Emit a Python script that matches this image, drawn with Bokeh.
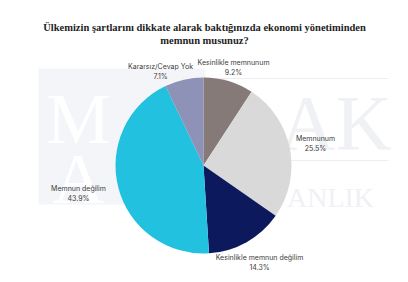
import math
from bokeh.plotting import figure
from bokeh.models import ColumnDataSource, Range1d
from bokeh.core.properties import value
from bokeh.embed import file_html
from bokeh.resources import INLINE

# ---- data ----
title_lines = ["Ülkemizin şartlarını dikkate alarak baktığınızda ekonomi yönetiminden",
               "memnun musunuz?"]
categories = ["Kesinlikle memnunum", "Memnunum", "Kesinlikle memnun değilim",
              "Memnun değilim", "Kararsız/Cevap Yok"]
values = [9.2, 25.5, 14.3, 43.9, 7.1]
colors = ["#867a79", "#d9d9d9", "#0c1a5d", "#22c1e0", "#8e92b6"]

W, H = 408, 282
CX, CY, R = 203, H - 165, 88

# wedge angles (clockwise from top)
total = sum(values)
starts, ends = [], []
cum = 0.0
for v in values:
    a0 = math.pi / 2 - 2 * math.pi * (cum + v) / total
    a1 = math.pi / 2 - 2 * math.pi * cum / total
    starts.append(a0)
    ends.append(a1)
    cum += v

src = ColumnDataSource(dict(start=starts, end=ends, color=colors, cat=categories))

p = figure(width=W, height=H, output_backend="svg", toolbar_location=None,
           x_range=Range1d(0, W), y_range=Range1d(0, H), min_border=0)
p.axis.visible = False
p.grid.visible = False
p.outline_line_color = None
p.background_fill_color = "white"

SERIF = value("'Liberation Serif', 'DejaVu Serif', serif")

# ---- faint watermark ----
p.quad(left=38, right=205, top=H - 68, bottom=H - 204, fill_color="#f4f5f9", line_color=None)
p.text(x=[78, 78], y=[H - 118, H - 178], text=["M", "A"], text_font=SERIF,
       text_font_size="72px", text_color="white", text_align="center", text_baseline="middle")
p.segment(x0=[205, 290], y0=[H - 78, H - 160], x1=[388, 388], y1=[H - 78, H - 160],
          line_color="#eceef3", line_width=1.2)
p.text(x=[335], y=[H - 122], text=["AK"], text_font=SERIF,
       text_font_size="78px", text_color="#eff1f5", text_align="center", text_baseline="middle")
p.text(x=[330], y=[H - 197], text=["ANLIK"], text_font=SERIF,
       text_font_size="28px", text_color="#eff1f5", text_align="center", text_baseline="middle")

# ---- pie ----
p.wedge(x=CX, y=CY, radius=R, start_angle="start", end_angle="end",
        fill_color="color", line_color=None, source=src)

# ---- labels ----
lab_x = [233, 315, 259, 78, 160]
lab_y = [62, 138, 257, 188, 66]
pcts = [f"{v:.1f}%" for v in values]
p.text(x=lab_x, y=[H - y for y in lab_y], text=categories, text_font=value("Inter"),
       text_font_size="7px", text_color="#3c3c3c", text_align="center", text_baseline="middle")
p.text(x=lab_x, y=[H - y - 9.5 for y in lab_y], text=pcts, text_font=value("Inter"),
       text_font_size="7px", text_color="#3c3c3c", text_align="center", text_baseline="middle")

# ---- title ----
p.text(x=[204, 204], y=[H - 27, H - 40], text=title_lines, text_font=SERIF,
       text_font_style="bold", text_font_size="10.5px", text_color="#1e1e1e",
       text_align="center", text_baseline="middle")

open("out.html", "w").write(file_html(p, INLINE))
